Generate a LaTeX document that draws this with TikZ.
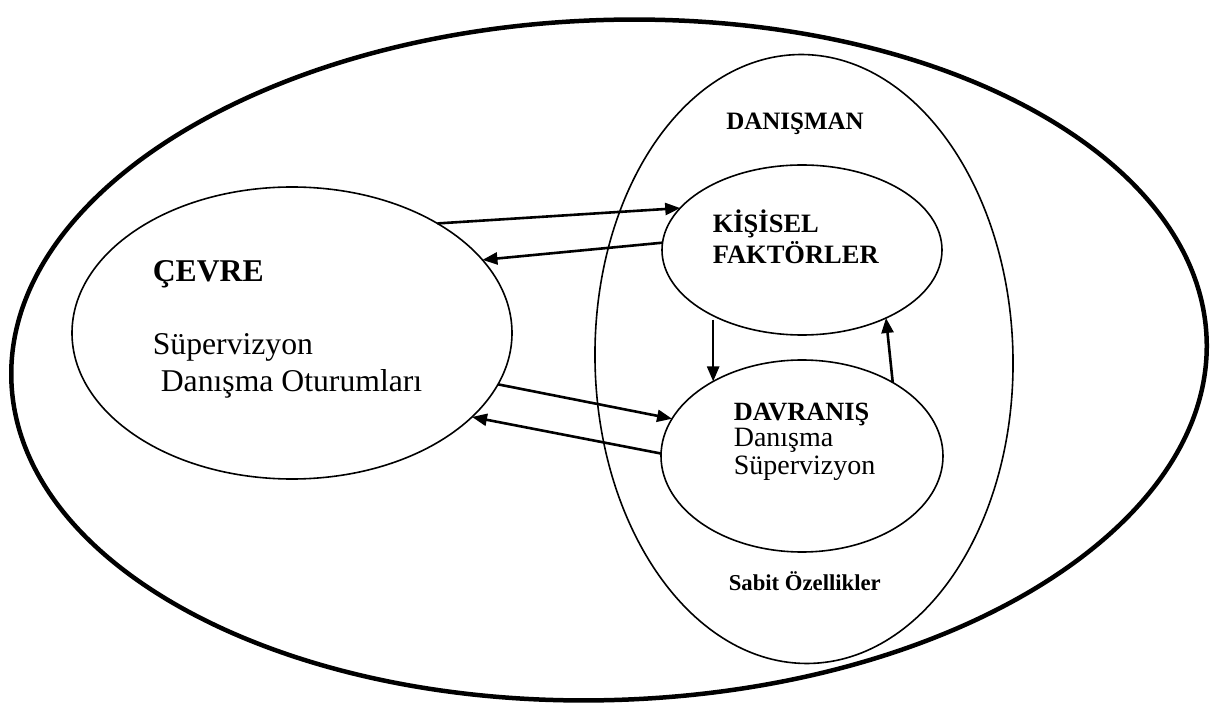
\documentclass[tikz,border=0pt]{standalone}
\usepackage{fontspec}
\setmainfont{Liberation Serif}
\usetikzlibrary{shapes.geometric,arrows.meta}

\begin{document}
\begin{tikzpicture}[
        x=1pt,
        y=-1pt,
        >={Triangle[length=15pt,width=12pt]},
        line width=1.6pt
    ]

    \tikzstyle{oval}=[ellipse,draw=black,inner sep=0pt,outer sep=0pt]
    \tikzstyle{conn}=[->,line width=2.6pt]
    \tikzstyle{lbl}=[anchor=base west,inner sep=0pt]

    \useasboundingbox (0,0) rectangle (1219,708);

    \node[oval,line width=4.5pt,minimum width=1196pt,minimum height=680pt,rotate=2] (outer) at (609,360) {};
    \node[oval,minimum width=418pt,minimum height=609pt,rotate=1] (danismanoval) at (804,359) {};
    \node[oval,minimum width=440pt,minimum height=292pt] (cevre) at (292,333) {};
    \node[oval,minimum width=280pt,minimum height=170pt] (kisisel) at (802,250) {};
    \node[oval,minimum width=282pt,minimum height=192pt] (davranis) at (802,456) {};

    \node[lbl,anchor=base,font=\fontsize{25}{30}\selectfont\bfseries] (danismanlbl) at (795,130) {DANIŞMAN};
    \node[lbl,font=\fontsize{26.5}{31}\selectfont\bfseries] (kisisel1) at (712,233) {KİŞİSEL};
    \node[lbl,font=\fontsize{26.5}{31}\selectfont\bfseries] (kisisel2) at (712,264) {FAKTÖRLER};
    \node[lbl,font=\fontsize{31.7}{37}\selectfont\bfseries] (cevre1) at (152,282) {ÇEVRE};
    \node[lbl,font=\fontsize{31.7}{37}\selectfont] (cevre2) at (152,355) {Süpervizyon};
    \node[lbl,font=\fontsize{31.7}{37}\selectfont] (cevre3) at (160,392) {Danışma Oturumları};
    \node[lbl,font=\fontsize{26.3}{31}\selectfont\bfseries] (davranis1) at (733,421) {DAVRANIŞ};
    \node[lbl,font=\fontsize{28}{32}\selectfont] (davranis2) at (733,447) {Danışma};
    \node[lbl,font=\fontsize{28}{32}\selectfont] (davranis3) at (733,475) {Süpervizyon};
    \node[lbl,font=\fontsize{22.7}{27}\selectfont\bfseries] (sabit) at (728,590) {Sabit Özellikler};

    \path
    (cevre.37)                    edge[conn] (kisisel.161)
    (kisisel.177)                 edge[conn] (cevre.21)
    (cevre.-14)                   edge[conn] (davranis.164)
    (davranis.179)                edge[conn] (cevre.-25)
    (davranis.140 |- kisisel.221) edge[conn] (davranis.140)
    (davranis.39)                 edge[conn] (kisisel.-39)
    ;
\end{tikzpicture}
\end{document}
